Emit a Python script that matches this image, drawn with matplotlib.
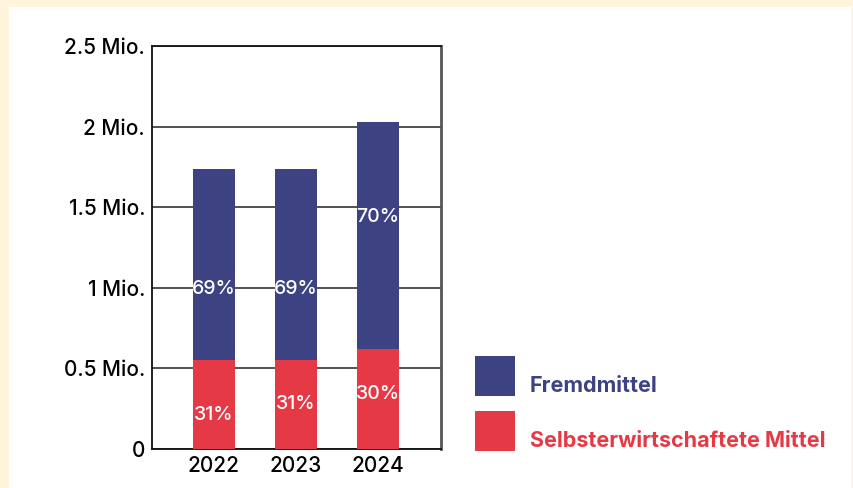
import matplotlib
matplotlib.use("Agg")
import matplotlib.pyplot as plt
from matplotlib.patches import Rectangle

plt.rcParams['font.family'] = ['Inter', 'DejaVu Sans']

years = ["2022", "2023", "2024"]
selbst = [0.55, 0.55, 0.62]       # Mio.
fremd = [1.19, 1.19, 1.41]        # Mio.
pct_fremd = ["69%", "69%", "70%"]
pct_selbst = ["31%", "31%", "30%"]
label_y_fremd = [0.99, 0.99, 1.44]
label_y_selbst = [0.21, 0.28, 0.34]
yticks = [0, 0.5, 1, 1.5, 2, 2.5]
ytick_labels = ["0", "0.5 Mio.", "1 Mio.", "1.5 Mio.", "2 Mio.", "2.5 Mio."]
legend_labels = ["Fremdmittel", "Selbsterwirtschaftete Mittel"]

BLUE = "#3d4283"
RED = "#e63946"
CREAM = "#fff4dc"

W, H = 854, 488
fig = plt.figure(figsize=(W / 100, H / 100), dpi=100, facecolor=CREAM)
# white panel
fig.patches.append(Rectangle((9 / W, 0), (851 - 9) / W, (H - 7) / H,
                             transform=fig.transFigure, facecolor="white",
                             edgecolor="none", zorder=-5))

ax = fig.add_axes([152 / W, 1 - 449 / H, (441 - 152) / W, (449 - 46) / H])
ax.set_zorder(1)
ax.set_facecolor("white")
x = list(range(len(years)))
ax.bar(x, selbst, width=0.51, color=RED, zorder=3)
ax.bar(x, fremd, width=0.51, bottom=selbst, color=BLUE, zorder=3)

for i in x:
    ax.text(i, label_y_fremd[i], pct_fremd[i], color="white", ha="center",
            va="center", fontsize=14, fontweight="medium", zorder=4)
    ax.text(i, label_y_selbst[i], pct_selbst[i], color="white", ha="center",
            va="center", fontsize=14, fontweight="medium", zorder=4)

ax.set_xlim(-0.756, 2.77)
ax.set_ylim(0, 2.5)
ax.set_yticks(yticks)
ax.set_yticklabels(ytick_labels, fontweight="medium")
ax.set_xticks(x)
ax.set_xticklabels(years, fontweight="medium")
ax.tick_params(axis="both", length=0, labelsize=15, colors="black")
ax.tick_params(axis="y", pad=5)
ax.tick_params(axis="x", pad=5)
ax.grid(axis="y", color="#444444", linewidth=1.3, zorder=1)
ax.set_axisbelow(True)
for s in ["left", "right", "top", "bottom"]:
    ax.spines[s].set_color("#111111")
    ax.spines[s].set_linewidth(1.3)
ax.spines["right"].set_color("#555555")
ax.spines["right"].set_linewidth(2)

# legend
for j, (lab, col) in enumerate(zip(legend_labels, [BLUE, RED])):
    top = 356 + j * 55
    fig.patches.append(Rectangle((475 / W, 1 - (top + 40) / H), 40 / W, 40 / H,
                                 transform=fig.transFigure, facecolor=col,
                                 edgecolor="none", zorder=2))
    fig.text(530 / W, 1 - (top + 30) / H, lab, color=col, fontsize=15.5,
             fontweight="bold", ha="left", va="center")

fig.savefig("out.png", dpi=100, facecolor=CREAM)
